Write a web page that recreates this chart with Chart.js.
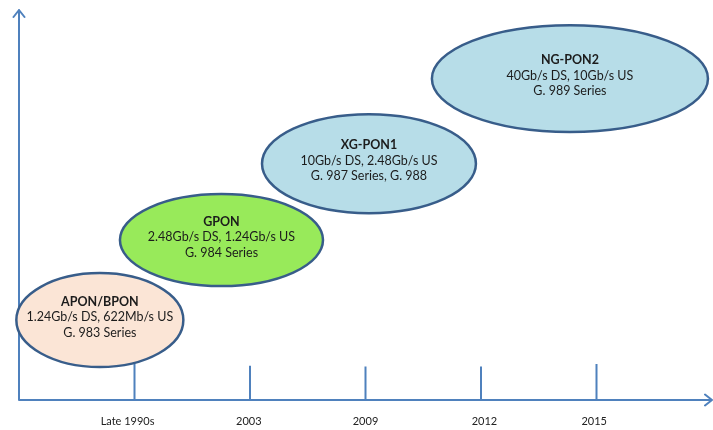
<!DOCTYPE html>
<html>
<head>
<meta charset="utf-8">
<script src="https://cdn.jsdelivr.net/npm/chart.js@4/dist/chart.umd.min.js"></script>
<style>
  html, body { margin: 0; padding: 0; background: #ffffff; }
  #wrap { width: 713px; height: 430px; position: relative; }
</style>
</head>
<body>
<div id="wrap"><canvas id="c"></canvas></div>
<script>
// Timeline milestones along the horizontal axis
const tickLabels = ['Late 1990s', '2003', '2009', '2012', '2015'];
const tickPositions = [1, 2, 3, 4, 5];
const labelPositions = [0.94, 1.99, 3.0, 4.03, 4.98];
const tickHeights = [9.3, 8.8, 8.6, 8.6, 9.2];

// PON generations: name, rates, ITU-T series
const techNames = ['APON/BPON', 'GPON', 'XG-PON1', 'NG-PON2'];
const techRates = ['1.24Gb/s DS, 622Mb/s US', '2.48Gb/s DS, 1.24Gb/s US', '10Gb/s DS, 2.48Gb/s US', '40Gb/s DS, 10Gb/s US'];
const techSeries = ['G. 983 Series', 'G. 984 Series', 'G. 987 Series, G. 988', 'G. 989 Series'];

// Ellipse centre (x = timeline, y = capability) and half extents, in axis units
const centerX = [0.70, 1.753, 3.03, 4.77];
const centerY = [20.5, 41.0, 60.6, 82.4];
const halfWidth = [0.723, 0.879, 0.926, 1.195];
const halfHeight = [12.05, 11.8, 12.7, 13.7];

const fillColors = ['#fbe5d6', '#98ea5a', '#b7dde8', '#b7dde8'];
const AXIS_COLOR = '#4f81bd';
const EDGE_COLOR = '#385d8a';
const TEXT_FONT = 'Lato, "Open Sans", sans-serif';

// Tick-mark segments, broken with gaps between milestones
const tickSegments = [];
tickPositions.forEach((p, i) => {
  tickSegments.push({ x: p, y: 0 }, { x: p, y: tickHeights[i] }, { x: p, y: NaN });
});

const ellipsePoints = centerX.map((x, i) => ({ x, y: centerY[i], rx: halfWidth[i], ry: halfHeight[i] }));

const axesPlugin = {
  id: 'axesArrows',
  beforeDatasetsDraw(chart) {
    const { ctx, scales: { x, y } } = chart;
    const x0 = x.getPixelForValue(0), y0 = y.getPixelForValue(0);
    const xEnd = x.getPixelForValue(x.max), yTop = y.getPixelForValue(y.max);
    ctx.save();
    ctx.strokeStyle = AXIS_COLOR;
    ctx.lineWidth = 2;
    ctx.lineCap = 'round';
    ctx.lineJoin = 'round';
    ctx.beginPath();
    ctx.moveTo(x0, y0); ctx.lineTo(x0, yTop);
    ctx.moveTo(x0, y0); ctx.lineTo(xEnd, y0);
    // arrow heads
    ctx.moveTo(x0 - 5.5, yTop + 7); ctx.lineTo(x0, yTop); ctx.lineTo(x0 + 5.5, yTop + 7);
    ctx.moveTo(xEnd - 7, y0 - 5.5); ctx.lineTo(xEnd, y0); ctx.lineTo(xEnd - 7, y0 + 5.5);
    ctx.stroke();
    ctx.restore();
  }
};

const ellipsePlugin = {
  id: 'ellipses',
  afterDatasetsDraw(chart) {
    const { ctx, scales: { x, y } } = chart;
    const meta = chart.getDatasetMeta(1);
    ctx.save();
    // later generations sit behind earlier ones
    for (let i = meta.data.length - 1; i >= 0; i--) {
      const pt = meta.data[i];
      const d = chart.data.datasets[1].data[i];
      const rx = Math.abs(x.getPixelForValue(d.x + d.rx) - pt.x);
      const ry = Math.abs(y.getPixelForValue(d.y + d.ry) - pt.y);
      ctx.beginPath();
      ctx.ellipse(pt.x, pt.y, rx, ry, 0, 0, Math.PI * 2);
      ctx.fillStyle = fillColors[i];
      ctx.fill();
      ctx.lineWidth = 2.5;
      ctx.strokeStyle = EDGE_COLOR;
      ctx.stroke();

      const ty = pt.y - 3;
      ctx.fillStyle = '#1c1c1c';
      ctx.textAlign = 'center';
      ctx.textBaseline = 'middle';
      ctx.font = 'bold 12.5px ' + TEXT_FONT;
      ctx.fillText(techNames[i], pt.x, ty - 15.5);
      ctx.font = '12.5px ' + TEXT_FONT;
      ctx.fillText(techRates[i], pt.x, ty);
      ctx.fillText(techSeries[i], pt.x, ty + 15.5);
    }
    ctx.restore();
  }
};

new Chart(document.getElementById('c'), {
  type: 'scatter',
  data: {
    datasets: [
      {
        label: 'milestones',
        data: tickSegments,
        showLine: true,
        spanGaps: false,
        borderColor: AXIS_COLOR,
        borderWidth: 2,
        pointRadius: 0
      },
      {
        label: 'generations',
        data: ellipsePoints,
        pointRadius: 0,
        showLine: false
      }
    ]
  },
  options: {
    responsive: true,
    maintainAspectRatio: false,
    animation: false,
    events: [],
    layout: { padding: { left: 19, right: 1, top: 10, bottom: 3 } },
    plugins: { legend: { display: false }, tooltip: { enabled: false } },
    scales: {
      x: {
        type: 'linear',
        min: 0,
        max: 6,
        grid: { display: false, drawTicks: false },
        border: { display: false },
        afterBuildTicks(scale) { scale.ticks = labelPositions.map(v => ({ value: v })); },
        afterFit(scale) { scale.height = 27; },
        ticks: {
          padding: 15,
          color: '#222222',
          font: { family: TEXT_FONT, size: 11 },
          callback: (v) => tickLabels[labelPositions.indexOf(v)]
        }
      },
      y: {
        type: 'linear',
        display: false,
        min: 0,
        max: 100
      }
    }
  },
  plugins: [axesPlugin, ellipsePlugin]
});
</script>
</body>
</html>
